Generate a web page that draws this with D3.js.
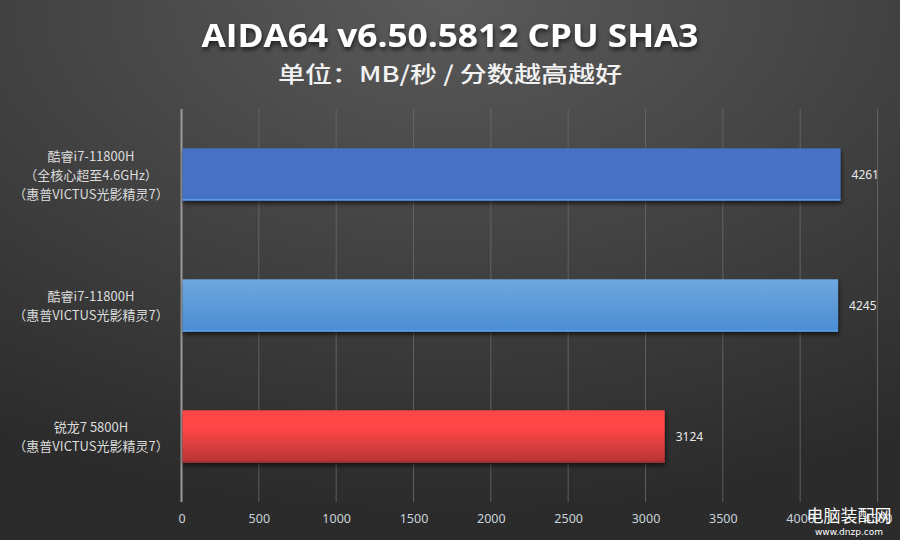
<!DOCTYPE html>
<html><head><meta charset="utf-8">
<script src="https://cdn.jsdelivr.net/npm/d3@7"></script>
<style>html,body{margin:0;padding:0;background:#3a3a3a;}svg{display:block;}</style>
</head><body>
<svg id="c" width="900" height="540"></svg>
<script>
const categories = [
  ["酷睿i7-11800H", "（全核心超至4.6GHz）", "（惠普VICTUS光影精灵7）"],
  ["酷睿i7-11800H", "（惠普VICTUS光影精灵7）"],
  ["锐龙7 5800H", "（惠普VICTUS光影精灵7）"]
];
const values = [4261, 4245, 3124];
const tickValues = [0, 500, 1000, 1500, 2000, 2500, 3000, 3500, 4000, 4500];
const title = "AIDA64 v6.50.5812 CPU SHA3";
const subtitle = "单位：MB/秒 / 分数越高越好";
const barColors = [["#4472c4", "#4472c4"], ["#6fa7df", "#4a8dd3"], ["#ff4646", "#b53434"]];

const svg = d3.select("#c");
const defs = svg.append("defs");
const bg = defs.append("radialGradient").attr("id", "bg").attr("cx", "50%").attr("cy", "0%").attr("r", "95%");
bg.append("stop").attr("offset", "0%").attr("stop-color", "#5a5a5a");
bg.append("stop").attr("offset", "100%").attr("stop-color", "#2b2b2b");
svg.append("rect").attr("width", 900).attr("height", 540).attr("fill", "url(#bg)");

const sh = defs.append("filter").attr("id", "sh").attr("x", "-5%").attr("y", "-20%").attr("width", "110%").attr("height", "150%");
sh.append("feDropShadow").attr("dx", 1).attr("dy", 3).attr("stdDeviation", 2).attr("flood-color", "#000").attr("flood-opacity", 0.6);

barColors.forEach((c, i) => {
  const g = defs.append("linearGradient").attr("id", "g" + i).attr("x1", 0).attr("y1", 0).attr("x2", 0).attr("y2", 1);
  g.append("stop").attr("offset", "0%").attr("stop-color", c[0]);
  g.append("stop").attr("offset", i === 2 ? "35%" : "0%").attr("stop-color", c[0]);
  g.append("stop").attr("offset", "100%").attr("stop-color", c[1]);
});

const x = d3.scaleLinear().domain([0, 4500]).range([181.5, 877.5]);
const y = d3.scaleBand().domain(d3.range(values.length)).range([109, 502]).paddingInner(0.6).paddingOuter(0.3);

// gridlines
svg.append("g").selectAll("line").data(tickValues).join("line")
  .attr("x1", d => x(d)).attr("x2", d => x(d)).attr("y1", 109).attr("y2", 502)
  .attr("stroke", d => d === 0 ? "#9a9a9a" : "#6a6a6a").attr("stroke-width", d => d === 0 ? 2 : 1)
  .attr("stroke-opacity", d => d === 0 ? 1 : 0.8);

// axis labels
const ax = svg.append("g").attr("transform", "translate(0,502)")
  .call(d3.axisBottom(x).tickValues(tickValues).tickSize(0).tickPadding(12).tickFormat(d3.format("d")));
ax.select(".domain").remove();
ax.selectAll("text").attr("fill", "#c9d3dc").attr("font-family", "'Noto Sans', 'DejaVu Sans', sans-serif").attr("font-size", 12.5);

// bars
svg.append("g").selectAll("rect").data(values).join("rect")
  .attr("x", x(0) + 1).attr("y", (d, i) => y(i))
  .attr("width", d => x(d) - x(0) - 1).attr("height", y.bandwidth())
  .attr("fill", (d, i) => `url(#g${i})`).attr("filter", "url(#sh)");
svg.append("g").selectAll("line").data(values).join("line")
  .attr("x1", x(0) + 1).attr("x2", d => x(d)).attr("y1", (d, i) => y(i) + y.bandwidth() - 1).attr("y2", (d, i) => y(i) + y.bandwidth() - 1)
  .attr("stroke", (d, i) => i === 2 ? "#a03030" : "#5f9ae8").attr("stroke-width", 1.5);

// value labels
svg.append("g").selectAll("text").data(values).join("text")
  .attr("x", d => x(d) + 11).attr("y", (d, i) => y(i) + y.bandwidth() / 2 + 4)
  .attr("fill", "#e8e8e8").attr("font-family", "'Noto Sans', 'DejaVu Sans', sans-serif").attr("font-size", 12)
  .text(d => d);

// category labels
const lh = 19;
const cl = svg.append("g").selectAll("text").data(categories).join("text")
  .attr("text-anchor", "middle")
  .attr("font-family", "'Noto Sans CJK SC', 'Noto Sans', sans-serif").attr("font-size", 13).attr("fill", "#dcdcdc")
  .attr("y", (d, i) => y(i) + y.bandwidth() / 2 - (d.length - 1) * lh / 2 + 5);
cl.selectAll("tspan").data(d => d).join("tspan")
  .attr("x", 91).attr("dy", (d, j) => j === 0 ? 0 : lh).text(d => d);

// titles
svg.append("text").attr("x", 450).attr("y", 47).attr("text-anchor", "middle")
  .attr("font-family", "'Open Sans', 'Noto Sans', sans-serif").attr("font-weight", "bold").attr("font-size", 32)
  .attr("textLength", 497).attr("lengthAdjust", "spacingAndGlyphs")
  .attr("fill", "#ffffff").attr("filter", "url(#sh)").text(title);
svg.append("text").attr("x", 450).attr("y", 82).attr("text-anchor", "middle")
  .attr("font-family", "'Noto Sans CJK SC', sans-serif").attr("font-weight", "500").attr("font-size", 22)
  .attr("textLength", 344).attr("lengthAdjust", "spacingAndGlyphs")
  .attr("fill", "#f2f2f2").text(subtitle);

// watermark
svg.append("text").attr("x", 849).attr("y", 522).attr("text-anchor", "middle")
  .attr("font-family", "'Noto Sans CJK SC', sans-serif").attr("font-size", 17).attr("fill", "#ffffff").text("电脑装配网");
svg.append("text").attr("x", 849).attr("y", 535).attr("text-anchor", "middle")
  .attr("font-family", "'DejaVu Sans', sans-serif").attr("font-size", 9).attr("fill", "#ffffff").text("www.dnzp.com");
</script>
</body></html>
